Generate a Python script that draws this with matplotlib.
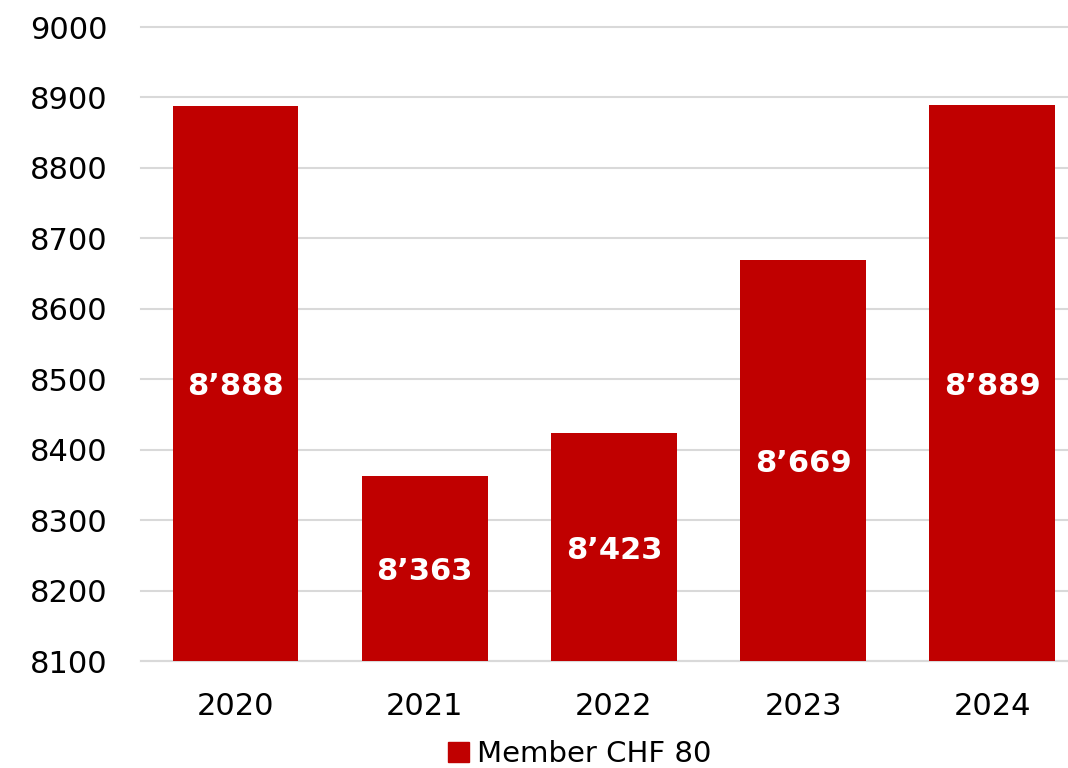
import matplotlib
matplotlib.use("Agg")
import matplotlib.pyplot as plt
from matplotlib.patches import Patch

years = ["2020", "2021", "2022", "2023", "2024"]
members = [8888, 8363, 8423, 8669, 8889]
series_name = "Member CHF 80"
yticks = [8100, 8200, 8300, 8400, 8500, 8600, 8700, 8800, 8900, 9000]

color = "#C00000"
plt.rcParams['font.family'] = ['DejaVu Sans']

fig = plt.figure(figsize=(10.68, 7.68), dpi=100)
ax = fig.add_axes([0.132, 0.1393, 0.868, 0.8255])

x = range(len(years))
bars = ax.bar(x, [v - 8100 for v in members], bottom=8100, width=0.665, color=color, zorder=3)

ax.set_ylim(8100, 9000)
ax.set_xlim(-0.5, len(years) - 0.6)
ax.set_yticks(yticks)
ax.set_yticklabels([str(t) for t in yticks], fontsize=22)
ax.set_xticks(list(x))
ax.set_xticklabels(years, fontsize=22)
ax.tick_params(axis='y', length=0, pad=24)
ax.tick_params(axis='x', length=0, pad=22)

ax.grid(axis='y', color='#d9d9d9', linewidth=1.5, zorder=0)
for gl in ax.get_ygridlines():
    gl.set_clip_on(False)
for s in ['top', 'right', 'left']:
    ax.spines[s].set_visible(False)
ax.spines['bottom'].set_color('#d9d9d9')
ax.spines['bottom'].set_linewidth(1.5)

for xi, v in zip(x, members):
    label = f"{v // 1000}\u2019{v % 1000:03d}"
    ax.text(xi, (8100 + v) / 2, label, ha='center', va='center_baseline',
            color='white', fontsize=22, fontweight='bold', zorder=4)

handle = Patch(facecolor=color, edgecolor=color)
fig.legend([handle], [series_name], loc='center', bbox_to_anchor=(0.543, 0.018),
           frameon=False, fontsize=21, handlelength=0.7, handleheight=0.7,
           handletextpad=0.3)

fig.savefig("out.png", dpi=100)
